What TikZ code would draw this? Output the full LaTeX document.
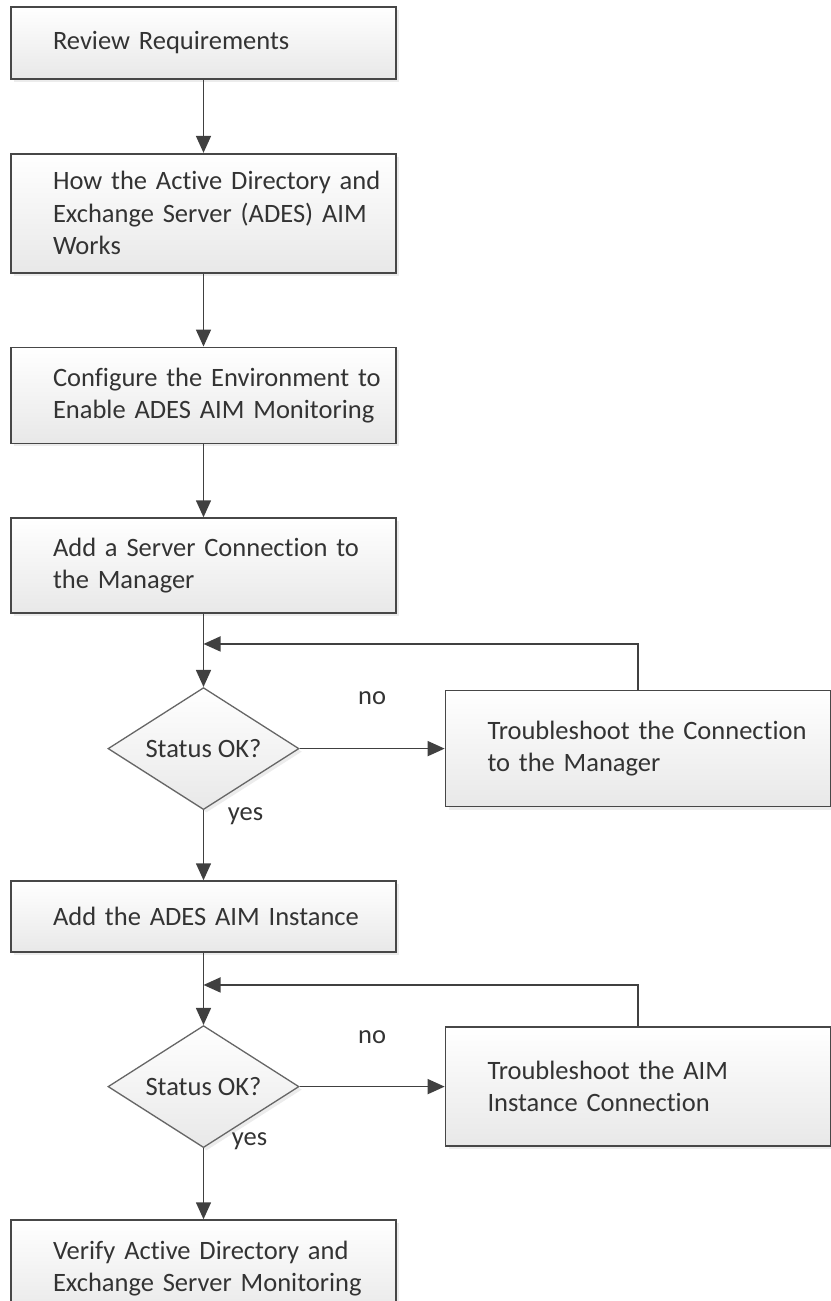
\documentclass[tikz,border=0pt]{standalone}
\usepackage{fontspec}
\setmainfont{Carlito}[Ligatures=NoCommon]
\usepackage{tikz}
\usetikzlibrary{arrows.meta,positioning,shapes.geometric,shadows}

\begin{document}
\begin{tikzpicture}[
    x=1pt, y=1pt,
    node distance=73pt,
    every node/.style={font=\fontsize{26.5}{32.5}\selectfont, text=black!80},
    box/.style={draw=black!72, line width=1.7pt, top color=white, bottom color=black!9,
      drop shadow={shadow xshift=3pt, shadow yshift=-3pt, opacity=.15},
      align=left, text width=301pt, inner xsep=42pt, inner ysep=0pt,
      execute at begin node={\rightskip=-42pt plus 1fil\hyphenpenalty=10000\relax}},
    decision/.style={diamond, draw=black!60, line width=1.3pt, top color=white,
      bottom color=black!9, drop shadow={shadow xshift=3pt, shadow yshift=-3pt, opacity=.15},
      aspect=1.57, minimum width=191pt, minimum height=122pt, inner sep=0pt},
    flow/.style={-{Triangle[length=17pt, width=15pt]}, line width=1.6pt, draw=black!75},
    lbl/.style={inner sep=0pt}
  ]
    \useasboundingbox (0,0) rectangle (830,-1301);
    \node[box, minimum height=72pt] (review) at (203.5,-43) {Review Requirements};
    \node[box, minimum height=119pt, below=of review] (how)
      {How the Active Directory and\\Exchange Server (ADES) AIM\\Works};
    \node[box, minimum height=96pt, below=of how] (config)
      {Configure the Environment to\\Enable ADES AIM Monitoring};
    \node[box, minimum height=95pt, below=of config] (addserver)
      {Add a Server Connection to\\the Manager};
    \node[decision, below=of addserver] (status1) {Status OK?};
    \node[box, minimum height=116pt, right=145pt of status1] (fixconn)
      {Troubleshoot the Connection\\to the Manager};
    \node[box, minimum height=71pt, below=70pt of status1] (addinst) {Add the ADES AIM Instance};
    \node[decision, below=72pt of addinst] (status2) {Status OK?};
    \node[box, minimum height=119pt, right=145pt of status2] (fixinst)
      {Troubleshoot the AIM\\Instance Connection};
    \node[box, minimum height=97pt, below=71pt of status2] (verify)
      {Verify Active Directory and\\Exchange Server Monitoring};
    \coordinate (j1) at ([yshift=-30pt]addserver.south);
    \coordinate (j2) at ([yshift=-32pt]addinst.south);

    \draw[flow] (review) -- (how);
    \draw[flow] (how) -- (config);
    \draw[flow] (config) -- (addserver);
    \draw[flow] (addserver) -- (status1);
    \draw[flow] (status1) -- node[lbl, yshift=50pt] (no1) {no} (fixconn);
    \draw[flow] (fixconn.north) |- (j1);
    \draw[flow] (status1) -- node[lbl, pos=0, xshift=42pt, yshift=-6pt] (yes1) {yes} (addinst);
    \draw[flow] (addinst) -- (status2);
    \draw[flow] (status2) -- node[lbl, yshift=49pt] (no2) {no} (fixinst);
    \draw[flow] (fixinst.north) |- (j2);
    \draw[flow] (status2) -- node[lbl, pos=0, xshift=46pt, yshift=7pt] (yes2) {yes} (verify);
  \end{tikzpicture}
\end{document}
